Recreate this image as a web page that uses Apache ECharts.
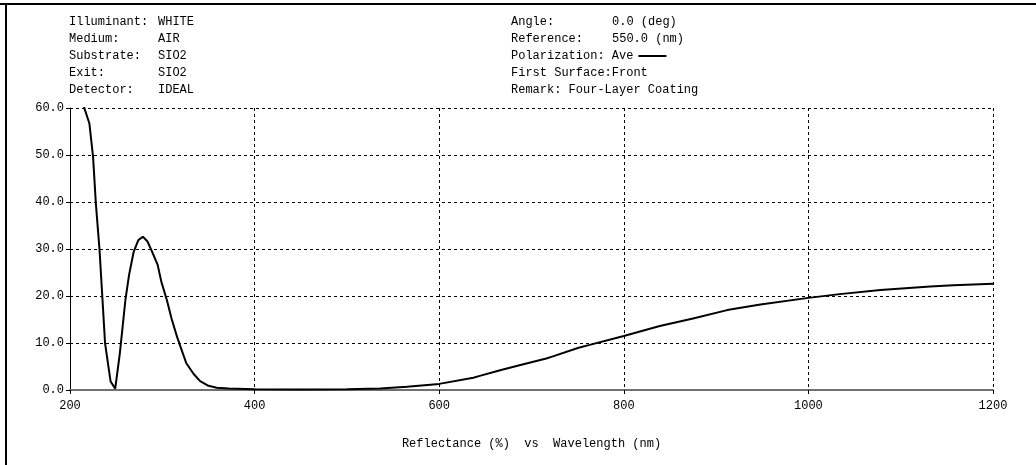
<!DOCTYPE html>
<html>
<head>
<meta charset="utf-8">
<script src="https://cdn.jsdelivr.net/npm/echarts@6/dist/echarts.min.js"></script>
<style>
html,body{margin:0;padding:0;background:#fff;}
#chart{width:1036px;height:465px;}
</style>
</head>
<body>
<div id="chart"></div>
<script>
// Data
const wavelength = [213, 216, 221, 225, 228, 232, 235, 238, 244, 249, 254, 260, 264, 269, 274, 279, 284, 289, 295, 299, 305, 310, 316, 321, 326, 334, 341, 350, 359, 372, 400, 450, 500, 536, 565, 600, 637, 644, 666, 688, 716, 724, 751, 763, 800, 839, 875, 912, 948, 1000, 1034, 1078, 1132, 1157, 1200];
const reflectance = [62, 59.7, 56.7, 49.6, 39.7, 29.8, 19.9, 9.9, 1.8, 0.3, 7.8, 19.1, 24.5, 29.4, 31.9, 32.6, 31.6, 29.4, 26.6, 23.0, 19.1, 15.2, 11.3, 8.5, 5.7, 3.4, 1.9, 0.9, 0.5, 0.3, 0.15, 0.1, 0.15, 0.3, 0.7, 1.3, 2.6, 3.0, 4.2, 5.3, 6.7, 7.2, 9.0, 9.6, 11.5, 13.6, 15.2, 17.0, 18.2, 19.6, 20.4, 21.3, 22.0, 22.3, 22.6];
const seriesName = 'Ave';
const xTicks = [200, 400, 600, 800, 1000, 1200];
const yTicks = [0, 10, 20, 30, 40, 50, 60];
const infoLeftLabels = ['Illuminant:', 'Medium:', 'Substrate:', 'Exit:', 'Detector:'];
const infoLeftValues = ['WHITE', 'AIR', 'SIO2', 'SIO2', 'IDEAL'];
const infoRightLabels = ['Angle:', 'Reference:', '', 'First Surface:Front', 'Remark: Four-Layer Coating'];
const infoRightValues = ['0.0 (deg)', '550.0 (nm)', '', '', ''];
const xTitle = 'Reflectance (%)  vs  Wavelength (nm)';

const FONT = "'Liberation Mono', 'DejaVu Sans Mono', monospace";
const rowY = [23, 40, 57, 74, 91];

const graphics = [
  {type:'line', shape:{x1:0, y1:4, x2:1036, y2:4}, style:{stroke:'#000', lineWidth:2}},
  {type:'line', shape:{x1:6, y1:3, x2:6, y2:465}, style:{stroke:'#000', lineWidth:2}}
];
function addText(str, x, y){
  if(!str) return;
  graphics.push({type:'text', left:x, top:y-7, style:{text:str, font:"12px " + FONT, fill:'#000'}});
}
infoLeftLabels.forEach((t,i)=>addText(t, 69, rowY[i]));
infoLeftValues.forEach((t,i)=>addText(t, 158, rowY[i]));
infoRightLabels.forEach((t,i)=>addText(t, 511, rowY[i]));
infoRightValues.forEach((t,i)=>addText(t, 612, rowY[i]));

const chart = echarts.init(document.getElementById('chart'), null, {renderer:'canvas'});
chart.setOption({
  animation:false,
  backgroundColor:'#fff',
  textStyle:{fontFamily:FONT},
  grid:{left:70, right:43, top:108, bottom:75, containLabel:false},
  legend:{
    left:511, top:50, padding:0, align:'right',
    itemWidth:28, itemHeight:2,
    data:[{name:seriesName, icon:'rect'}],
    formatter:'Polarization: {name}',
    textStyle:{fontFamily:FONT, fontSize:12, color:'#000', padding:[0,0,0,0]},
    selectedMode:false
  },
  xAxis:{
    type:'value', min:xTicks[0], max:xTicks[xTicks.length-1], interval:200,
    name:xTitle, nameLocation:'middle', nameGap:48,
    nameTextStyle:{fontFamily:FONT, fontSize:12, color:'#000'},
    axisLine:{show:true, onZero:false, lineStyle:{color:'#707070', width:2}},
    axisTick:{show:true, length:4, lineStyle:{color:'#000'}},
    axisLabel:{margin:10, fontFamily:FONT, fontSize:12, color:'#000', formatter:v=>String(v)},
    splitLine:{show:true, lineStyle:{color:'#000', type:[3,3], width:1}}
  },
  yAxis:{
    type:'value', min:yTicks[0], max:yTicks[yTicks.length-1], interval:10,
    axisLine:{show:true, lineStyle:{color:'#000', width:1}},
    axisTick:{show:true, length:4, lineStyle:{color:'#000'}},
    axisLabel:{margin:6, fontFamily:FONT, fontSize:12, color:'#000', formatter:v=>v.toFixed(1)},
    splitLine:{show:true, lineStyle:{color:'#000', type:[3,3], width:1}}
  },
  series:[{
    name:seriesName, type:'line', showSymbol:false, symbol:'none', smooth:false, clip:true,
    lineStyle:{color:'#000', width:2}, itemStyle:{color:'#000'},
    data:wavelength.map((w,i)=>[w, reflectance[i]])
  }],
  graphic:graphics
});
</script>
</body>
</html>
